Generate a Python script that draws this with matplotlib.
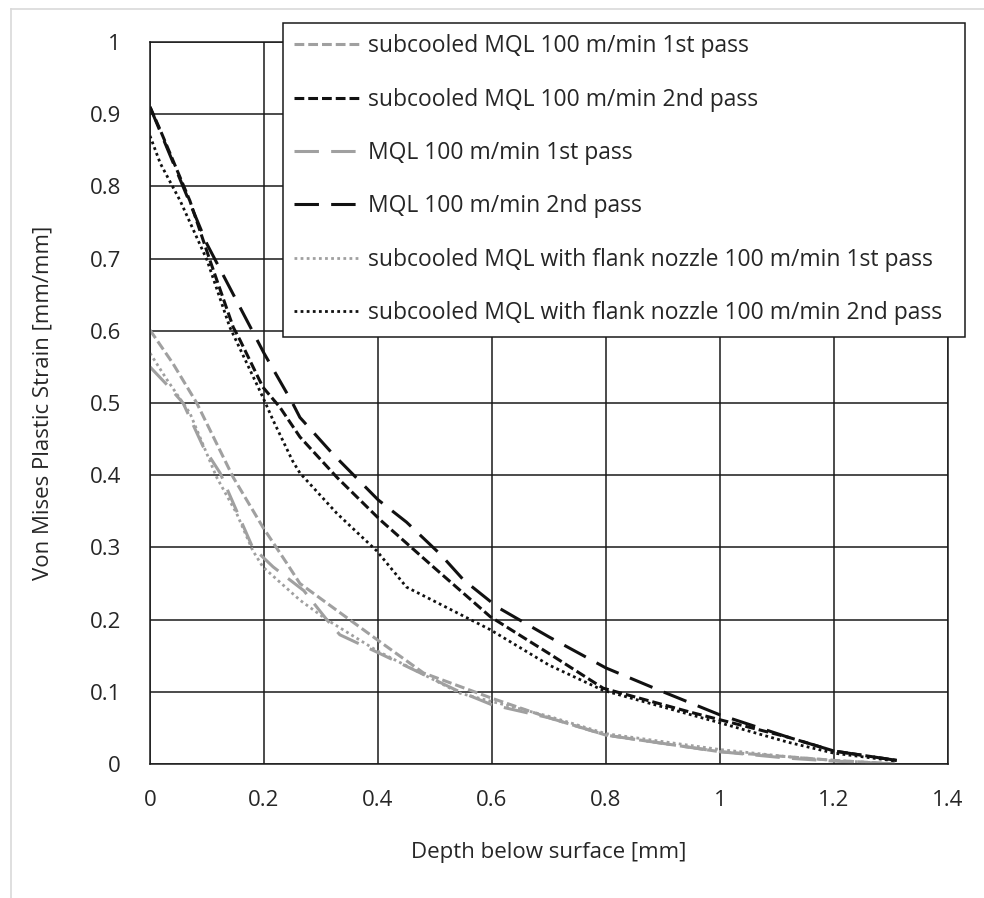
import matplotlib
matplotlib.use("Agg")
import matplotlib.pyplot as plt
from matplotlib.lines import Line2D

plt.rcParams['font.family'] = ['Open Sans', 'DejaVu Sans']

sub_1st_x = [0.0, 0.04, 0.082, 0.146, 0.198, 0.24, 0.263, 0.35, 0.404, 0.48, 0.6, 0.70, 0.80, 1.0, 1.12, 1.2, 1.31]
sub_1st_y = [0.601, 0.555, 0.50, 0.397, 0.328, 0.278, 0.25, 0.20, 0.169, 0.126, 0.091, 0.064, 0.04, 0.017, 0.01, 0.005, 0.0]

sub_2nd_x = [0.0, 0.018, 0.07, 0.105, 0.146, 0.158, 0.198, 0.228, 0.263, 0.328, 0.404, 0.497, 0.597, 0.70, 0.795, 0.947, 1.12, 1.2, 1.31]
sub_2nd_y = [0.91, 0.878, 0.78, 0.698, 0.605, 0.587, 0.522, 0.494, 0.453, 0.397, 0.338, 0.273, 0.204, 0.153, 0.105, 0.072, 0.037, 0.018, 0.005]

mql_1st_x = [0.0, 0.03, 0.058, 0.093, 0.123, 0.18, 0.216, 0.27, 0.31, 0.333, 0.398, 0.538, 0.60, 0.70, 0.80, 1.0, 1.12, 1.2, 1.31]
mql_1st_y = [0.55, 0.525, 0.50, 0.44, 0.403, 0.30, 0.273, 0.24, 0.20, 0.179, 0.155, 0.102, 0.082, 0.064, 0.04, 0.017, 0.008, 0.004, 0.0]

mql_2nd_x = [0.0, 0.1, 0.2, 0.25, 0.263, 0.32, 0.40, 0.45, 0.51, 0.55, 0.61, 0.70, 0.80, 0.90, 1.0, 1.12, 1.2, 1.31]
mql_2nd_y = [0.91, 0.72, 0.569, 0.50, 0.48, 0.43, 0.366, 0.335, 0.29, 0.255, 0.217, 0.176, 0.133, 0.10, 0.068, 0.037, 0.018, 0.005]

flank_1st_x = [0.0, 0.03, 0.07, 0.117, 0.152, 0.18, 0.198, 0.263, 0.31, 0.398, 0.544, 0.70, 0.80, 1.0, 1.12, 1.2, 1.31]
flank_1st_y = [0.569, 0.532, 0.486, 0.397, 0.347, 0.296, 0.273, 0.227, 0.20, 0.157, 0.098, 0.066, 0.042, 0.02, 0.01, 0.005, 0.0]

flank_2nd_x = [0.0, 0.018, 0.053, 0.1, 0.14, 0.198, 0.216, 0.25, 0.263, 0.328, 0.398, 0.45, 0.50, 0.597, 0.70, 0.795, 1.0, 1.12, 1.2, 1.31]
flank_2nd_y = [0.87, 0.832, 0.78, 0.698, 0.605, 0.508, 0.476, 0.42, 0.403, 0.347, 0.295, 0.245, 0.225, 0.186, 0.137, 0.102, 0.057, 0.03, 0.015, 0.004]

labels = ['subcooled MQL 100 m/min 1st pass',
          'subcooled MQL 100 m/min 2nd pass',
          'MQL 100 m/min 1st pass',
          'MQL 100 m/min 2nd pass',
          'subcooled MQL with flank nozzle 100 m/min 1st pass',
          'subcooled MQL with flank nozzle 100 m/min 2nd pass']

x_ticks = [0, 0.2, 0.4, 0.6, 0.8, 1, 1.2, 1.4]
x_tick_labels = ['0', '0.2', '0.4', '0.6', '0.8', '1', '1.2', '1.4']
y_ticks = [0, 0.1, 0.2, 0.3, 0.4, 0.5, 0.6, 0.7, 0.8, 0.9, 1]
y_tick_labels = ['0', '0.1', '0.2', '0.3', '0.4', '0.5', '0.6', '0.7', '0.8', '0.9', '1']

GRAY = '#a0a0a0'
BLACK = '#111111'
TEXT = '#262626'
FS = 16
LEG_FS = 16.5
short_dash = (0, (3.2, 1.3))
long_dash = (0, (8, 4))
dots = (0, (1, 1.2))

fig = plt.figure(figsize=(9.84, 8.98), dpi=100)
ax = fig.add_axes([150 / 984, 1 - 764 / 898, 798 / 984, 722 / 898])

# light frame around the chart area
fig.add_artist(Line2D([11 / 984, 11 / 984], [0, 1 - 9 / 898], transform=fig.transFigure, color='#d9d9d9', lw=1.2))
fig.add_artist(Line2D([11 / 984, 1], [1 - 9 / 898, 1 - 9 / 898], transform=fig.transFigure, color='#d9d9d9', lw=1.2))

series = [
    (sub_1st_x, sub_1st_y, GRAY, short_dash, 2.2),
    (sub_2nd_x, sub_2nd_y, BLACK, short_dash, 2.2),
    (mql_1st_x, mql_1st_y, GRAY, long_dash, 2.2),
    (mql_2nd_x, mql_2nd_y, BLACK, long_dash, 2.2),
    (flank_1st_x, flank_1st_y, GRAY, dots, 2.0),
    (flank_2nd_x, flank_2nd_y, BLACK, dots, 2.0),
]
for (xs, ys, c, ls, lw), lab in zip(series, labels):
    ax.plot(xs, ys, color=c, linestyle=ls, linewidth=lw, label=lab)

ax.set_xlim(0, 1.4)
ax.set_ylim(0, 1)
ax.set_xticks(x_ticks)
ax.set_xticklabels(x_tick_labels)
ax.set_yticks(y_ticks)
ax.set_yticklabels(y_tick_labels)
ax.tick_params(length=0, labelsize=FS, colors=TEXT)
ax.tick_params(axis='y', pad=21)
ax.tick_params(axis='x', pad=19)

ax.grid(True, color='#1a1a1a', linewidth=1.1)
for sp in ax.spines.values():
    sp.set_color('#1a1a1a')
    sp.set_linewidth(1.1)

ax.set_xlabel('Depth below surface [mm]', fontsize=FS, labelpad=22, color=TEXT)
ax.set_ylabel('Von Mises Plastic Strain [mm/mm]', fontsize=FS, labelpad=26, color=TEXT)

leg = ax.legend(loc='upper left', bbox_to_anchor=(283 / 984, 1 - 340 / 898, 682 / 984, 317 / 898),
                bbox_transform=fig.transFigure, mode='expand', fontsize=LEG_FS,
                fancybox=False, framealpha=1, edgecolor='#1a1a1a', handlelength=2.9,
                handletextpad=0.3, labelspacing=1.28, borderpad=0.5, borderaxespad=0)
leg.get_frame().set_linewidth(1.1)
for t in leg.get_texts():
    t.set_color(TEXT)

fig.savefig('out.png', dpi=100)
